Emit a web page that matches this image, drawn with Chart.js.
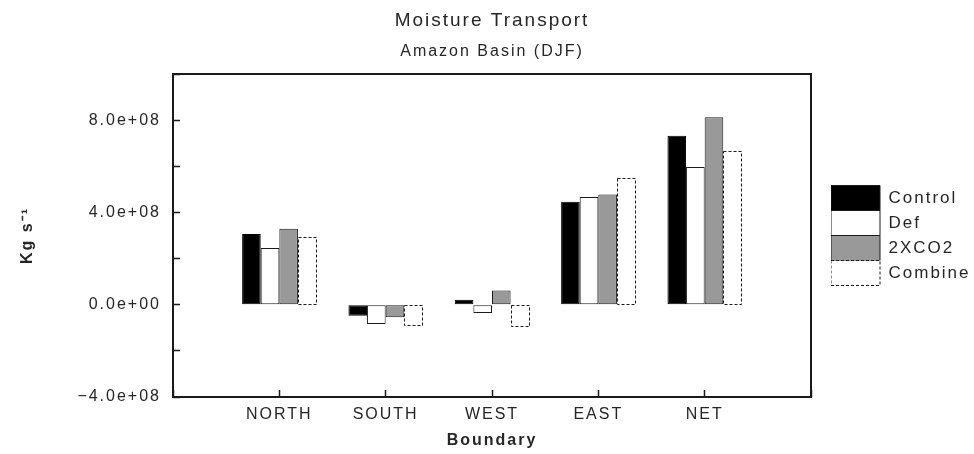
<!DOCTYPE html>
<html>
<head>
<meta charset="utf-8">
<script src="https://cdn.jsdelivr.net/npm/chart.js@4/dist/chart.umd.min.js"></script>
<style>
  html, body { margin: 0; padding: 0; background: #fff; }
  #c { display: block; }
</style>
</head>
<body>
<canvas id="c" width="974" height="454"></canvas>
<script>
// Boundary moisture fluxes, Amazon basin, DJF (kg s^-1)
const categories = ['NORTH', 'SOUTH', 'WEST', 'EAST', 'NET'];
const controlFlux = [3.07e8, -0.48e8, 0.22e8, 4.46e8, 7.32e8];
const defFlux     = [2.46e8, -0.84e8, -0.36e8, 4.67e8, 5.97e8];
const co2Flux     = [3.29e8, -0.54e8, 0.62e8, 4.78e8, 8.12e8];
const combineFlux = [2.94e8, -0.91e8, -0.94e8, 5.48e8, 6.67e8];
const seriesNames = ['Control', 'Def', '2XCO2', 'Combine'];
const yTickValues = [-4e8, 0, 4e8, 8e8];
const yTickLabels = ['\u22124.0e+08', '0.0e+00', '4.0e+08', '8.0e+08'];

const FONT = '"Liberation Sans", Arial, Helvetica, sans-serif';
const INK = '#262626';
const LINE = '#1a1a1a';

// empty slot at each end so the categories sit one full step inside the frame
const xLabels = [''].concat(categories, ['']);
const pad = arr => [null].concat(arr, [null]);

// wider letter spacing on every canvas text run
const spacing = {
  id: 'spacing',
  beforeUpdate(chart) { chart.ctx.letterSpacing = '2px'; },
  beforeLayout(chart) { chart.ctx.letterSpacing = '2px'; },
  beforeDraw(chart) { chart.ctx.letterSpacing = '2px'; },
  resize(chart) { chart.ctx.letterSpacing = '2px'; }
};

// dashed outline for the Combine bars and the closed plot frame
const frame = {
  id: 'frame',
  afterDatasetsDraw(chart) {
    const ctx = chart.ctx;
    const values = chart.data.datasets[3].data;
    const meta = chart.getDatasetMeta(3);
    ctx.save();
    ctx.strokeStyle = LINE;
    ctx.lineWidth = 1;
    ctx.setLineDash([3, 2]);
    meta.data.forEach((el, i) => {
      if (values[i] == null) return;
      const p = el.getProps(['x', 'y', 'base', 'width'], true);
      const left = p.x - p.width / 2;
      const top = Math.min(p.y, p.base);
      const h = Math.abs(p.y - p.base);
      ctx.strokeRect(Math.round(left) + 0.5, Math.round(top) + 0.5, Math.round(p.width) - 1, Math.round(h));
    });
    ctx.restore();

    const a = chart.chartArea;
    ctx.save();
    ctx.strokeStyle = LINE;
    ctx.lineWidth = 2;
    ctx.strokeRect(a.left, a.top, a.right - a.left, a.bottom - a.top);
    ctx.restore();
  }
};

const ctx = document.getElementById('c').getContext('2d');
new Chart(ctx, {
  type: 'bar',
  data: {
    labels: xLabels,
    datasets: [
      { label: seriesNames[0], data: pad(controlFlux), backgroundColor: '#000', borderColor: '#000', borderWidth: 1, borderSkipped: false },
      { label: seriesNames[1], data: pad(defFlux), backgroundColor: '#fff', borderColor: LINE, borderWidth: 1, borderSkipped: false },
      { label: seriesNames[2], data: pad(co2Flux), backgroundColor: '#999', borderColor: LINE, borderWidth: 1, borderSkipped: false },
      { label: seriesNames[3], data: pad(combineFlux), backgroundColor: '#fff', borderColor: LINE, borderWidth: 0, borderSkipped: false }
    ]
  },
  options: {
    responsive: false,
    devicePixelRatio: 1,
    animation: false,
    layout: { padding: { left: 0, right: 0, top: 0, bottom: 0 } },
    datasets: { bar: { categoryPercentage: 0.7, barPercentage: 1.0 } },
    plugins: {
      tooltip: { enabled: false },
      title: {
        display: true,
        text: 'Moisture Transport',
        fullSize: false,
        color: INK,
        font: { family: FONT, size: 19, weight: 'normal' },
        padding: { top: 9, bottom: 0 }
      },
      subtitle: {
        display: true,
        text: 'Amazon Basin (DJF)',
        fullSize: false,
        color: INK,
        font: { family: FONT, size: 16, weight: 'normal' },
        padding: { top: 10, bottom: 13 }
      },
      legend: {
        position: 'right',
        align: 'center',
        fullSize: false,
        maxWidth: 143,
        labels: {
          boxWidth: 49,
          boxHeight: 25,
          padding: 0,
          color: INK,
          font: { family: FONT, size: 17 },
          generateLabels(chart) {
            const items = Chart.defaults.plugins.legend.labels.generateLabels(chart);
            items.forEach((it, i) => {
              it.lineWidth = 1;
              it.strokeStyle = LINE;
              it.lineDash = i === 3 ? [3, 2] : [];
            });
            return items;
          }
        }
      }
    },
    scales: {
      x: {
        type: 'category',
        offset: false,
        grid: { display: true, offset: false, drawOnChartArea: false, drawTicks: true, tickLength: -7, tickColor: LINE, tickWidth: 1.5 },
        border: { display: false },
        ticks: { color: INK, font: { family: FONT, size: 16 }, padding: 15, autoSkip: false, maxRotation: 0 },
        title: {
          display: true,
          text: 'Boundary',
          color: INK,
          font: { family: FONT, size: 16, weight: 'bold' },
          padding: { top: 6, bottom: 4 }
        },
        afterFit(scale) { scale.height = 57; }
      },
      y: {
        min: -4e8,
        max: 1e9,
        grid: { display: true, drawOnChartArea: false, drawTicks: true, tickLength: -7, tickColor: LINE, tickWidth: 1.5 },
        border: { display: false },
        ticks: {
          stepSize: 2e8,
          color: INK,
          font: { family: FONT, size: 16 },
          padding: 19,
          callback(value) {
            const i = yTickValues.findIndex(v => Math.abs(v - value) < 1);
            return i >= 0 ? yTickLabels[i] : '';
          }
        },
        title: {
          display: true,
          text: 'Kg s\u207B\u00B9',
          color: INK,
          font: { family: FONT, size: 16, weight: 'bold' },
          padding: { top: 18, bottom: 0 }
        },
        afterFit(scale) { scale.width = 173; }
      },
      gap: {
        position: 'right',
        type: 'linear',
        display: true,
        grid: { display: false },
        border: { display: false },
        ticks: { display: false },
        afterFit(scale) { scale.width = 20; }
      }
    }
  },
  plugins: [spacing, frame]
});
</script>
</body>
</html>
